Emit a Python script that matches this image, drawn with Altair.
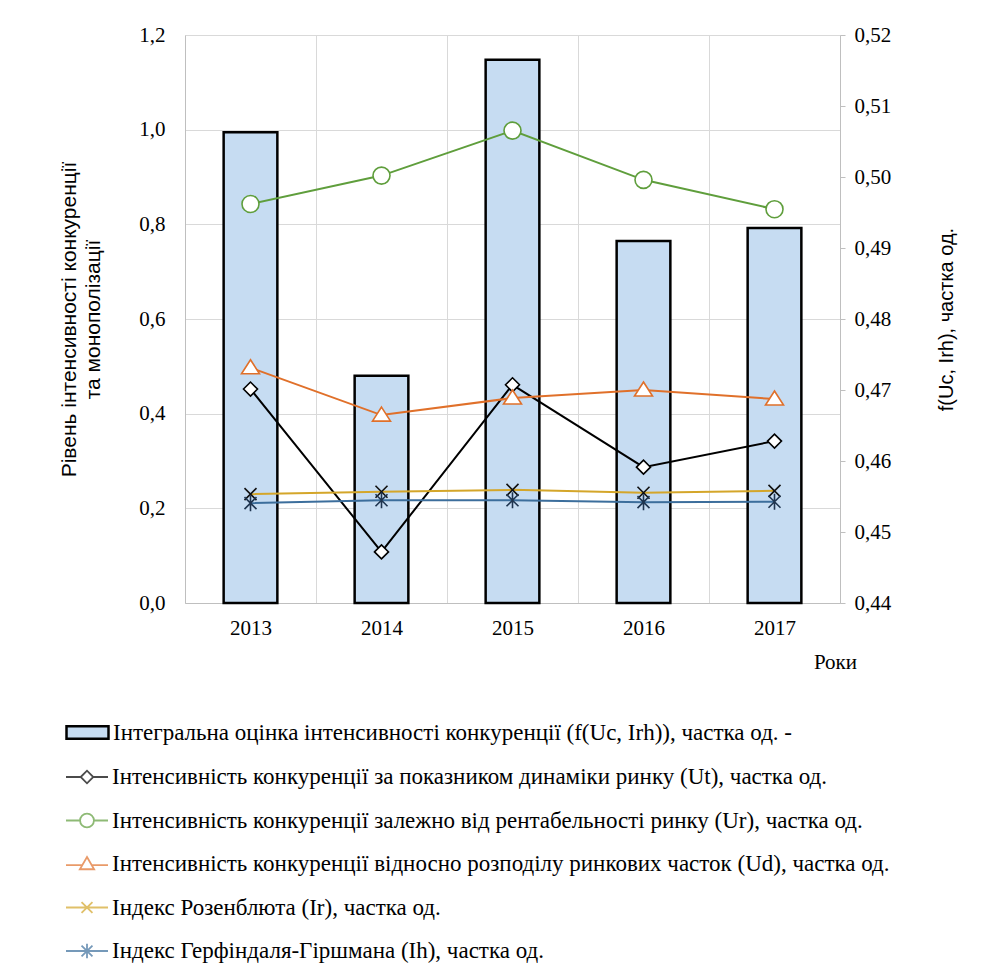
import altair as alt
import pandas as pd

# ---------------- data ----------------
years = ["2013", "2014", "2015", "2016", "2017"]

bar_label = "Інтегральна оцінка інтенсивності конкуренції (f(Uc, Irh)), частка од. -"
f_integral = [0.5063, 0.4720, 0.5165, 0.4910, 0.4928]

series_names = [
    "Інтенсивність конкуренції за показником динаміки  ринку (Ut), частка од.",
    "Інтенсивність конкуренції залежно від рентабельності ринку (Ur), частка од.",
    "Інтенсивність конкуренції відносно розподілу ринкових часток (Ud), частка од.",
    "Індекс Розенблюта (Ir), частка од.",
    "Індекс Герфіндаля-Гіршмана (Ih), частка од.",
]
ut = [0.452, 0.108, 0.461, 0.287, 0.342]
ur = [0.843, 0.903, 0.998, 0.894, 0.832]
ud = [0.497, 0.397, 0.433, 0.450, 0.431]
ir = [0.230, 0.235, 0.239, 0.233, 0.237]
ih = [0.211, 0.217, 0.217, 0.213, 0.214]
series_values = [ut, ur, ud, ir, ih]

left_ticks = [0.0, 0.2, 0.4, 0.6, 0.8, 1.0, 1.2]
right_ticks = [0.44, 0.45, 0.46, 0.47, 0.48, 0.49, 0.50, 0.51, 0.52]

# ---------------- styles ----------------
line_colors = ["#000000", "#5F9E3C", "#E0702A", "#D4A62A", "#3C6E9C"]
marker_colors = ["#000000", "#5F9E3C", "#E0702A", "#111111", "#1F3550"]
marker_paths = [
    "M-0.7,0L0,-0.7L0.7,0L0,0.7Z",
    "M-0.85,0A0.85,0.85 0 1,1 0.85,0A0.85,0.85 0 1,1 -0.85,0Z",
    "M0,-0.8L0.9,0.6L-0.9,0.6Z",
    "M-0.6,-0.6L0.6,0.6M-0.6,0.6L0.6,-0.6",
    "M-0.6,-0.6L0.6,0.6M-0.6,0.6L0.6,-0.6M0,-0.8V0.8",
]
legend_paths = [
    "M-1,0H-0.3M0.3,0H1M-0.3,0L0,-0.3L0.3,0L0,0.3Z",
    "M-1,0H-0.33M0.33,0H1M-0.33,0A0.33,0.33 0 1,1 0.33,0A0.33,0.33 0 1,1 -0.33,0Z",
    "M-1,0.05H-0.22M0.22,0.05H1M0,-0.33L0.34,0.25L-0.34,0.25Z",
    "M-1,0H1M-0.26,-0.26L0.26,0.26M-0.26,0.26L0.26,-0.26",
    "M-1,0H1M-0.26,-0.26L0.26,0.26M-0.26,0.26L0.26,-0.26M0,-0.34V0.34",
]

SERIF = "Liberation Serif"
SANS = "Liberation Sans"
GRID = "#d9d9d9"
AXISC = "#bfbfbf"
TICKFS = 21
LEGFS = 23

bar_df = pd.DataFrame({"year": years, "f": f_integral, "bar": [bar_label] * len(years)})
rows = []
for name, vals in zip(series_names, series_values):
    for yr, v in zip(years, vals):
        rows.append({"year": yr, "series": name, "value": v})
line_df = pd.DataFrame(rows)

comma1 = "replace(format(datum.value, '.1f'), '.', ',')"
comma2 = "replace(format(datum.value, '.2f'), '.', ',')"

x_axis = alt.Axis(
    title="Роки", labelFont=SERIF, labelFontSize=TICKFS, labelColor="black",
    labelPadding=14, labelAngle=0, ticks=False, domainColor=AXISC,
    grid=True, gridColor=GRID, tickBand="extent",
    titleFont=SERIF, titleFontSize=TICKFS, titleFontWeight="normal", titleColor="black",
    titleX=650, titleY=59, titleAlign="center", titleBaseline="middle",
)
x_enc = alt.X("year:N", sort=years, scale=alt.Scale(paddingInner=0, paddingOuter=0), axis=x_axis)

left_axis = alt.Axis(
    values=left_ticks, labelExpr=comma1, labelFont=SERIF, labelFontSize=TICKFS,
    labelColor="black", labelPadding=20, ticks=False, domainColor=AXISC,
    grid=True, gridColor=GRID,
    title=["Рівень інтенсивності конкуренції", "та монополізації"],
    titleFont=SANS, titleFontSize=21, titleFontWeight="normal", titleColor="black",
    titleAngle=270, titleX=-127, titleY=284, titleAlign="center",
    titleBaseline="top", titleLineHeight=24,
)
y_left = alt.Y("value:Q", scale=alt.Scale(domain=[0, 1.2], nice=False), axis=left_axis)

right_axis = alt.Axis(
    orient="right", values=right_ticks, labelExpr=comma2, labelFont=SERIF,
    labelFontSize=TICKFS, labelColor="black", labelPadding=9, ticks=True, tickSize=5,
    tickColor=AXISC, domainColor=AXISC, grid=False,
    title="f(Uc, Irh), частка од.", titleFont=SANS, titleFontSize=20,
    titleFontWeight="normal", titleColor="black", titleAngle=270,
    titleX=106, titleY=284, titleAlign="center", titleBaseline="middle",
)

bar_legend = alt.Legend(
    orient="none", legendX=-120, legendY=675, title=None,
    labelFont=SERIF, labelFontSize=LEGFS, labelColor="black", labelLimit=900,
    symbolType="M-1,-0.3H1V0.3H-1Z", symbolSize=1764,
    symbolStrokeColor="black", symbolStrokeWidth=2.5, labelOffset=3,
)
bars = alt.Chart(bar_df).mark_bar(
    width=alt.RelativeBandSize(0.41), stroke="black", strokeWidth=2.5
).encode(
    x=x_enc,
    y=alt.Y("f:Q", scale=alt.Scale(domain=[0.44, 0.52], zero=False, nice=False), axis=right_axis),
    y2=alt.datum(right_ticks[0]),
    fill=alt.Fill("bar:N", scale=alt.Scale(domain=[bar_label], range=["#C6DCF2"]), legend=bar_legend),
)

line_legend = alt.Legend(
    orient="none", legendX=-120, legendY=720, title=None,
    labelFont=SERIF, labelFontSize=LEGFS, labelColor="black", labelLimit=900,
    symbolSize=1764, symbolStrokeWidth=1.8, labelOffset=3, rowPadding=9.5,
)
color_scale = alt.Scale(domain=series_names, range=line_colors)

lines = alt.Chart(line_df).mark_line(strokeWidth=2).encode(
    x=x_enc,
    y=y_left,
    color=alt.Color("series:N", scale=color_scale, legend=line_legend),
    order=alt.Order("year:N"),
)

point_layers = []
for name, path, mcol in zip(series_names, marker_paths, marker_colors):
    point_layers.append(
        alt.Chart(line_df).transform_filter(alt.datum.series == name).mark_point(
            shape=path, filled=True, fill="white", stroke=mcol,
            size=400, strokeWidth=1.6, opacity=1
        ).encode(x=x_enc, y=y_left)
    )

legend_layer = alt.Chart(line_df).transform_filter("false").mark_point(
    filled=False, strokeWidth=1.8
).encode(
    x=x_enc,
    y=y_left,
    color=alt.Color("series:N", scale=color_scale, legend=line_legend),
    shape=alt.Shape("series:N", scale=alt.Scale(domain=series_names, range=legend_paths), legend=line_legend),
)

inner = alt.layer(lines, *point_layers, legend_layer)

chart = alt.layer(bars, inner).resolve_scale(y="independent").properties(
    width=655, height=568,
    padding={"left": 177, "top": 27, "right": 130, "bottom": 364},
    autosize=alt.AutoSizeParams(type="none"),
    background="white",
).configure_view(stroke="transparent")

chart.save("out.html", embed_options={"renderer": "svg", "actions": False})
